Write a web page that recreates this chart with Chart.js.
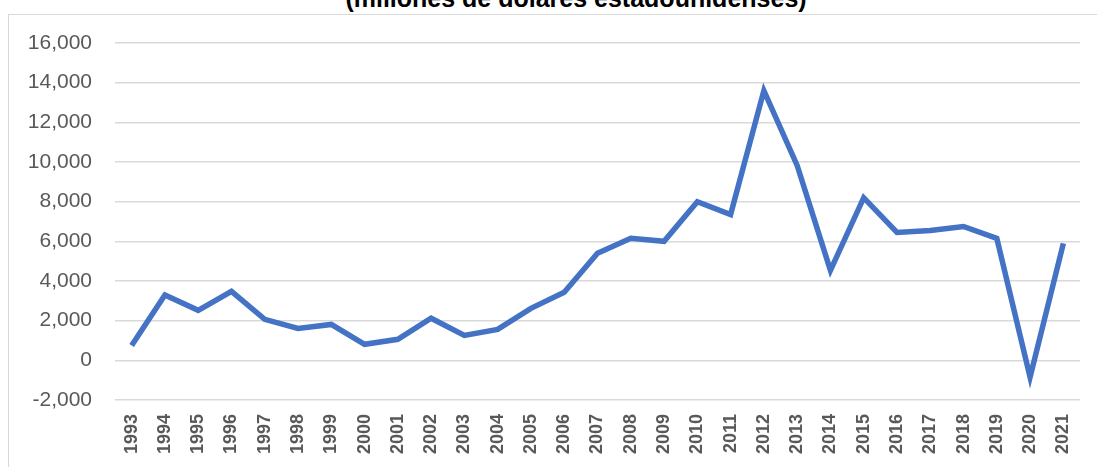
<!DOCTYPE html>
<html lang="es">
<head>
    <meta charset="UTF-8">
    <title>Inversión extranjera directa</title>
    <script src="https://cdn.jsdelivr.net/npm/chart.js@4.4.1/dist/chart.umd.min.js"></script>
    <style>
        html, body { margin: 0; padding: 0; background: #fff; }
        .page { position: relative; width: 1097px; height: 467px; overflow: hidden; }
        .frame {
            position: absolute; left: 8px; top: 14px; width: 1100px; height: 470px;
            border-left: 1px solid #d9d9d9; border-top: 1px solid #d9d9d9;
        }
        .title {
            position: absolute; left: 0; width: 1152px; top: -16px; text-align: center;
            font: bold 25px "Liberation Sans", Arial, sans-serif; color: #000; white-space: nowrap;
        }
        .chart { position: absolute; left: 0; top: 0; width: 1097px; height: 467px; }
    </style>
</head>
<body>
    <div class="page">
        <div class="frame"></div>
        <div class="title" id="title"></div>
        <div class="chart">
            <canvas id="fdiChart"></canvas>
        </div>
    </div>

    <script>
        // Years on the category axis
        const years = ['1993', '1994', '1995', '1996', '1997', '1998', '1999', '2000', '2001', '2002',
            '2003', '2004', '2005', '2006', '2007', '2008', '2009', '2010', '2011', '2012',
            '2013', '2014', '2015', '2016', '2017', '2018', '2019', '2020', '2021'];

        // Millions of US dollars
        const values = [750, 3300, 2520, 3480, 2070, 1610, 1810, 810, 1060, 2120,
            1260, 1560, 2620, 3430, 5400, 6150, 6000, 8000, 7350, 13600,
            9830, 4540, 8200, 6450, 6550, 6750, 6150, -850, 5900];

        const yMin = -2000;
        const yMax = 16000;
        const yStep = 2000;

        const titleText = '(millones de dólares estadounidenses)';
        document.getElementById('title').textContent = titleText;

        const ctx = document.getElementById('fdiChart').getContext('2d');
        new Chart(ctx, {
            type: 'line',
            data: {
                labels: years,
                datasets: [{
                    label: 'IED',
                    data: values,
                    borderColor: '#4472C4',
                    borderWidth: 5.5,
                    pointRadius: 0,
                    tension: 0,
                    fill: false
                }]
            },
            options: {
                responsive: true,
                maintainAspectRatio: false,
                animation: false,
                layout: { padding: { left: 0, right: 17, top: 43, bottom: 0 } },
                plugins: {
                    legend: { display: false },
                    tooltip: { enabled: false },
                    title: { display: false }
                },
                scales: {
                    x: {
                        offset: true,
                        grid: { display: false },
                        border: { display: false },
                        ticks: {
                            color: '#595959',
                            font: { family: 'Liberation Sans', size: 18, weight: 'bold' },
                            minRotation: 90,
                            maxRotation: 90,
                            autoSkip: false,
                            padding: 6
                        },
                        afterFit: (axis) => { axis.height = 67; }
                    },
                    y: {
                        min: yMin,
                        max: yMax,
                        grid: { color: '#d9d9d9', lineWidth: 1.5, drawTicks: false },
                        border: { display: false },
                        ticks: {
                            stepSize: yStep,
                            color: '#595959',
                            font: { family: 'Liberation Sans', size: 21 },
                            padding: 23,
                            callback: (v) => v.toLocaleString('en-US')
                        },
                        afterFit: (axis) => { axis.width = 115; }
                    }
                }
            }
        });
    </script>
</body>
</html>
